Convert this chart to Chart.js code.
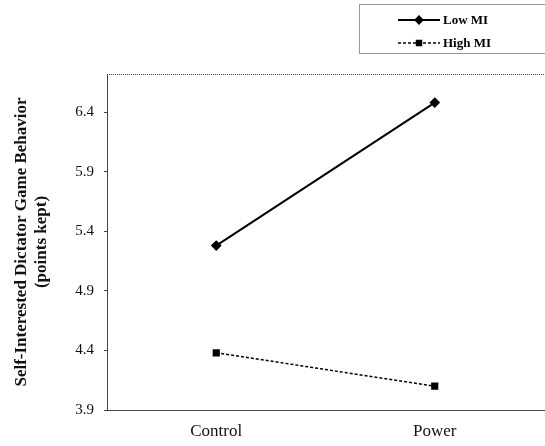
<!DOCTYPE html>
<html><head><meta charset="utf-8">
<style>html,body{margin:0;padding:0;background:#fff;overflow:hidden}#wrap{width:545px;height:446px;position:relative;overflow:hidden}</style>
<script src="https://cdn.jsdelivr.net/npm/chart.js@4/dist/chart.umd.min.js"></script>
</head><body><div id="wrap"><canvas id="c" width="550" height="446"></canvas></div>
<script>
const categories = ["Control", "Power"];
const lowMI = [5.28, 6.48];
const highMI = [4.38, 4.10];
const seriesNames = ["Low MI", "High MI"];
const yTicks = [3.9, 4.4, 4.9, 5.4, 5.9, 6.4];
const yTitle = ["Self-Interested Dictator Game Behavior", "(points kept)"];

const SERIF = "'Liberation Serif', 'DejaVu Serif', serif";

const frame = {
  id: 'frame',
  afterDraw(chart) {
    const {ctx, chartArea: a} = chart;
    ctx.save();
    ctx.strokeStyle = '#444';
    ctx.lineWidth = 1;
    ctx.setLineDash([1, 1]);
    ctx.beginPath();
    ctx.moveTo(a.left, a.top + 0.5); ctx.lineTo(a.right, a.top + 0.5);
    ctx.stroke();
    // legend box
    const bx = 359.5, by = 4.5, bw = 190, bh = 49;
    ctx.strokeStyle = '#333';
    ctx.strokeRect(bx, by, bw, bh);
    ctx.setLineDash([]);
    const ds = chart.data.datasets;
    const rows = [20, 43];
    ds.forEach((d, i) => {
      const y = rows[i];
      ctx.strokeStyle = '#000';
      ctx.lineWidth = d.borderWidth;
      ctx.setLineDash(d.borderDash || []);
      ctx.beginPath(); ctx.moveTo(398, y); ctx.lineTo(440, y); ctx.stroke();
      ctx.setLineDash([]);
      ctx.fillStyle = '#000';
      Chart.helpers.drawPoint(ctx, {pointStyle: d.pointStyle, radius: d.pointRadius - 0.5, borderWidth: 1}, 419, y);
      ctx.fill();
      ctx.font = "bold 13px " + SERIF;
      ctx.textBaseline = 'middle';
      ctx.textAlign = 'left';
      ctx.fillText(d.label, 443, y + 1);
    });
    ctx.restore();
  }
};

new Chart(document.getElementById('c'), {
  type: 'line',
  data: {
    labels: categories,
    datasets: [
      {label: seriesNames[0], data: lowMI, borderColor: '#000', backgroundColor: '#000', borderWidth: 2,
       pointStyle: 'rectRot', pointRadius: 4, pointBackgroundColor: '#000', pointBorderColor: '#000', tension: 0},
      {label: seriesNames[1], data: highMI, borderColor: '#000', backgroundColor: '#000', borderWidth: 1.5,
       borderDash: [3, 2], pointStyle: 'rect', pointRadius: 4, pointBackgroundColor: '#000', pointBorderColor: '#000', tension: 0}
    ]
  },
  options: {
    responsive: false,
    animation: false,
    devicePixelRatio: 1,
    layout: {padding: {top: 74, right: 0, left: 0, bottom: 0}},
    plugins: {legend: {display: false}, tooltip: {enabled: false}},
    scales: {
      x: {
        offset: true,
        grid: {display: false, drawTicks: false},
        border: {display: true, color: '#444', width: 1, dash: [1, 1]},
        ticks: {color: '#111', font: {family: SERIF, size: 17}, padding: 11},
        afterFit(s) { s.height = 36; }
      },
      y: {
        min: 3.9, max: 6.72,
        afterBuildTicks(s) { s.ticks = yTicks.map(v => ({value: v})); },
        grid: {display: true, drawOnChartArea: false, drawTicks: true, tickLength: 3, color: '#444'},
        border: {display: true, color: '#444', width: 1, dash: [1, 1]},
        ticks: {color: '#111', font: {family: SERIF, size: 15}, padding: 10,
                callback: v => v.toFixed(1)},
        title: {display: true, text: yTitle, color: '#111', font: {family: SERIF, size: 17, weight: 'bold', lineHeight: 1.15}, padding: {top: 12, bottom: 4}},
        afterFit(s) { s.width = 107; }
      }
    }
  },
  plugins: [frame]
});
</script></body></html>
